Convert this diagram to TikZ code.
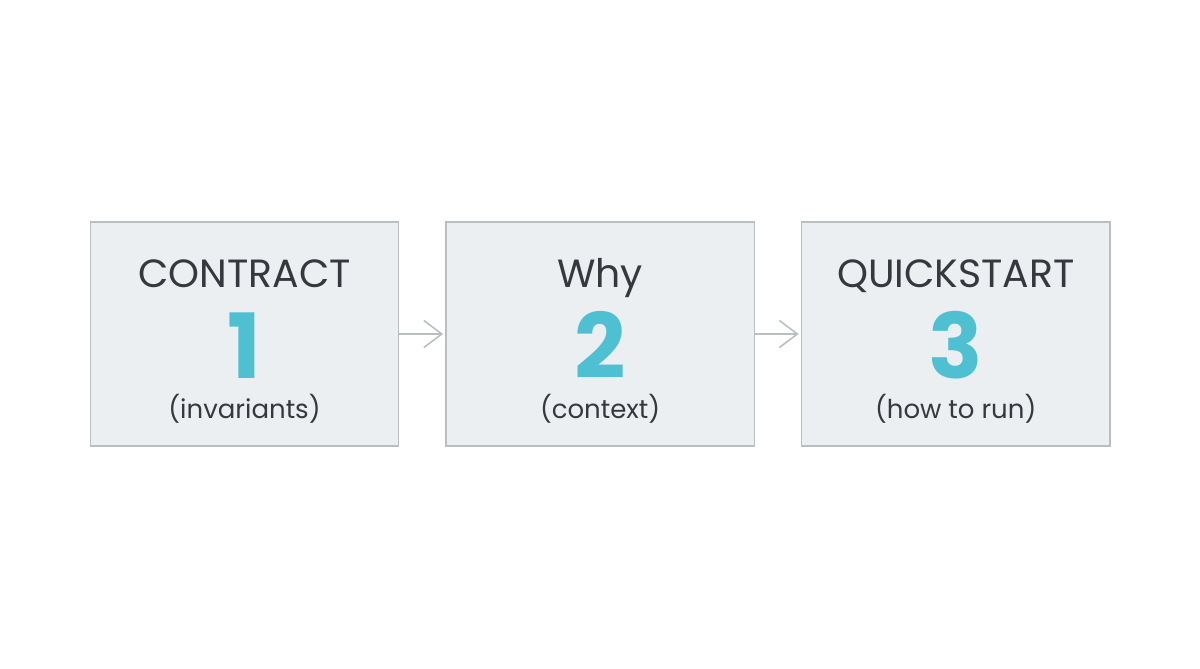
\documentclass[tikz,border=0pt]{standalone}
\usepackage{fontspec}
\setmainfont{Poppins}
\usetikzlibrary{arrows.meta,positioning}
\definecolor{boxfill}{HTML}{ECEFF2}
\definecolor{boxline}{HTML}{B9BEC3}
\definecolor{ink}{HTML}{33393E}
\definecolor{teal}{HTML}{4FC0D2}

\begin{document}
\begin{tikzpicture}[
  stage/.style={draw=boxline, line width=1.1pt, fill=boxfill, minimum width=7.71cm,
                minimum height=5.6cm, inner sep=0pt, outer sep=0pt},
  title/.style={anchor=base, inner sep=0pt, text=ink, font=\fontsize{28}{32}\selectfont},
  digit/.style={anchor=base, inner sep=0pt, text depth=0pt, text=teal, font=\bfseries\fontsize{64}{70}\selectfont},
  note/.style={anchor=base, inner sep=0pt, text=ink, font=\fontsize{18.5}{22}\selectfont},
  flow/.style={draw=boxline, line width=1.1pt, shorten >=0.07cm,
               -{Straight Barb[length=4.5mm, width=6.75mm, line width=1.1pt]}}
]
\useasboundingbox[fill=white] (0,0) rectangle (30,-16.725);
\node[stage] (b1) at (6.1125,-8.35) {};
\node[stage, right=1.18cm of b1] (b2) {};
\node[stage, right=1.18cm of b2] (b3) {};
\node[title] (t1) at ([yshift=1.15cm]b1.center) {CONTRACT};
\node[digit] (d1) at ([yshift=-1.1cm]b1.center) {1};
\node[note] (n1) at ([yshift=-2.1cm]b1.center) {(invariants)};
\node[title] (t2) at ([yshift=1.15cm]b2.center) {Why};
\node[digit] (d2) at ([yshift=-1.1cm]b2.center) {2};
\node[note] (n2) at ([yshift=-2.1cm]b2.center) {(context)};
\node[title] (t3) at ([yshift=1.15cm]b3.center) {QUICKSTART};
\node[digit] (d3) at ([yshift=-1.1cm]b3.center) {3};
\node[note] (n3) at ([yshift=-2.1cm]b3.center) {(how to run)};
\draw[flow] (b1) -- (b2);
\draw[flow] (b2) -- (b3);
\end{tikzpicture}
\end{document}
